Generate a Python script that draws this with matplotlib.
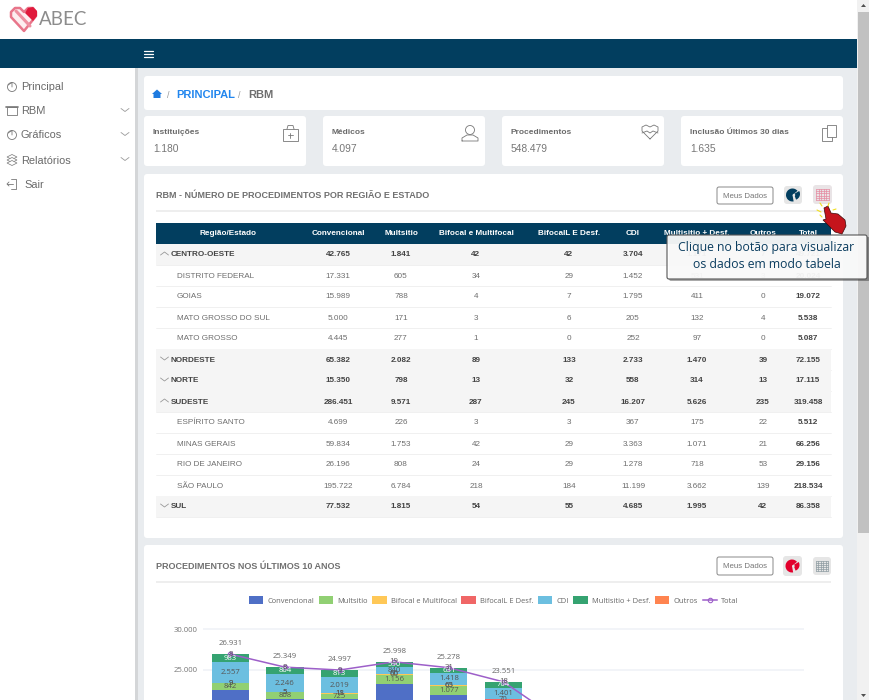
import matplotlib
matplotlib.use('Agg')
import matplotlib.pyplot as plt
from matplotlib.patches import FancyBboxPatch, Rectangle, Circle, Wedge, Polygon

W, H = 870, 700
NAVY = '#023e5f'
BG = '#e9ecef'
GREY = '#666666'
DARK = '#444444'
SANS = 'Liberation Sans'
CHART_FONT = 'Open Sans'

# table
table_headers = ['Região/Estado', 'Convencional', 'Multsitio', 'Bifocal e Multifocal',
                 'BifocalL E Desf.', 'CDI', 'Multisitio + Desf.', 'Outros', 'Total']
row_names = ['CENTRO-OESTE', 'DISTRITO FEDERAL', 'GOIAS', 'MATO GROSSO DO SUL', 'MATO GROSSO',
             'NORDESTE', 'NORTE', 'SUDESTE', 'ESPÍRITO SANTO', 'MINAS GERAIS', 'RIO DE JANEIRO',
             'SÃO PAULO', 'SUL']
is_region = [1, 0, 0, 0, 0, 1, 1, 1, 0, 0, 0, 0, 1]
is_open = [1, 0, 0, 0, 0, 0, 0, 1, 0, 0, 0, 0, 0]
col_conv = ['42.765', '17.331', '15.989', '5.000', '4.445', '65.382', '15.350', '286.451',
            '4.699', '59.834', '26.196', '195.722', '77.532']
col_multi = ['1.841', '605', '788', '171', '277', '2.082', '798', '9.571',
             '226', '1.753', '808', '6.784', '1.815']
col_bif = ['42', '34', '4', '3', '1', '89', '13', '287', '3', '42', '24', '218', '54']
col_bifl = ['42', '29', '7', '6', '0', '133', '32', '245', '3', '29', '29', '184', '55']
col_cdi = ['3.704', '1.452', '1.795', '205', '252', '2.733', '558', '16.207',
           '367', '3.363', '1.278', '11.199', '4.685']
col_desf = ['1.171', '531', '411', '132', '97', '1.470', '314', '5.626',
            '175', '1.071', '718', '3.662', '1.995']
col_outros = ['7', '3', '0', '4', '0', '39', '13', '235', '22', '21', '53', '139', '42']
col_total = ['49.721', '20.024', '19.072', '5.538', '5.087', '72.155', '17.115', '319.458',
             '5.512', '66.256', '29.156', '218.534', '86.358']

# stat cards
stat_labels = ['Instituições', 'Médicos', 'Procedimentos', 'Inclusão Últimos 30 dias']
stat_values = ['1.180', '4.097', '548.479', '1.635']
menu_items = ['Principal', 'RBM', 'Gráficos', 'Relatórios', 'Sair']

# chart, only the first six bars are inside the screenshot
series_names = ['Convencional', 'Multsitio', 'Bifocal e Multifocal', 'BifocalL E Desf.',
                'CDI', 'Multisitio + Desf.', 'Outros']
series_colors = ['#4f6fc6', '#91d073', '#ffc857', '#f06666', '#6cbfe0', '#35a371', '#ff8450']
convencional = [22523, 21473, 21402, 23267, 21993, 20422]
multsitio = [842, 808, 725, 1156, 1077, 900]
bifocal = [9, 5, 11, 60, 63, 36]
bifocal_desf = [9, 5, 18, 66, 65, 70]
cdi = [2557, 2246, 2019, 840, 1418, 1401]
multi_desf = [983, 804, 813, 590, 631, 704]
outros = [8, 8, 9, 19, 31, 18]
totals = [26931, 25349, 24997, 25998, 25278, 23551, 19000]
y_ticks = [25000, 30000]

fig = plt.figure(figsize=(W / 100, H / 100), dpi=100)
bg = fig.add_axes([0, 0, 1, 1])
bg.set_xlim(0, W)
bg.set_ylim(H, 0)
bg.axis('off')


def rect(x0, y0, x1, y1, color, z=1, **kw):
    bg.add_patch(Rectangle((x0, y0), x1 - x0, y1 - y0, fc=color, ec='none', zorder=z, **kw))


def card(x0, y0, x1, y1, fc='white', ec='none', lw=0, z=2, r=3, **kw):
    bg.add_patch(FancyBboxPatch((x0 + r, y0 + r), x1 - x0 - 2 * r, y1 - y0 - 2 * r,
                                boxstyle='round,pad=%d,rounding_size=%d' % (r, r),
                                fc=fc, ec=ec, lw=lw, zorder=z, **kw))


def txt(x, y, s, size=6.6, color=GREY, weight='normal', ha='left', family=SANS, z=4):
    # va=center sits a bit high compared to the browser text
    bg.text(x, y + 1, s, fontsize=size, color=color, fontweight=weight, ha=ha, va='center',
            family=family, zorder=z)


def line(xs, ys, color=GREY, lw=0.7, z=4):
    bg.plot(xs, ys, color=color, lw=lw, zorder=z, solid_capstyle='round')


def chevron(x, y, up, color='#999999'):
    d = -3 if up else 3
    line([x - 4, x, x + 4], [y - d / 2, y + d / 2, y - d / 2], color=color, lw=0.6)


def pie_button(x0, y0, x1, y1, color):
    card(x0, y0, x1, y1, fc='#e6e6e6', z=3)
    cx, cy = (x0 + x1) / 2, (y0 + y1) / 2
    bg.add_patch(Wedge((cx - 0.5, cy), 6.5, 80, 320, fc=color, ec='none', zorder=4))
    bg.add_patch(Wedge((cx + 1, cy - 1), 6, 330, 70, fc=color, ec='none', zorder=4))
    bg.add_patch(Circle((cx + 1, cy), 1.2, fc='#e6e6e6', ec='none', zorder=5))


def grid_button(x0, y0, x1, y1, color, fc='#e6e6e6'):
    card(x0, y0, x1, y1, fc=fc, z=3)
    gx0, gx1, gy0, gy1 = x0 + 3, x1 - 3, y0 + 4, y1 - 4
    for i in range(6):
        xx = gx0 + (gx1 - gx0) * i / 5
        line([xx, xx], [gy0, gy1], color=color, lw=0.5)
    for i in range(6):
        yy = gy0 + (gy1 - gy0) * i / 5
        line([gx0, gx1], [yy, yy], color=color, lw=0.5)


# page frame
rect(0, 0, W, H, BG, z=0)
rect(0, 0, 857, 39, 'white')
rect(0, 39, 857, 68, NAVY)
rect(0, 68, 135, H, 'white')
rect(135, 68, 138, H, '#d4d6d8')
rect(857, 0, W, H, '#f1f1f1')
rect(858, 12, 869, 533, '#c1c1c1')
bg.add_patch(Polygon([(861, 694), (866, 694), (863.5, 697)], fc='#505050', ec='none', zorder=3))
bg.add_patch(Polygon([(861, 7), (866, 7), (863.5, 4)], fc='#505050', ec='none', zorder=3))

# logo
heart = [(24, 31), (11, 17), (11, 12), (15, 8), (20, 8), (24, 12), (28, 8), (33, 8), (36, 12), (36, 16)]
bg.add_patch(Polygon(heart, fc='#fdeef0', ec='#e8758a', lw=1.8, joinstyle='round', zorder=3))
line([16, 30], [11, 26], color='#ee8fa0', lw=2.2)
bg.add_patch(Polygon([(25, 13), (28, 8), (33, 7), (37, 11), (37, 16), (33, 21)], fc='#e01a3c', ec='none', zorder=5))
txt(39, 18.5, 'ABEC', size=13.5, color='#8c8c8c', family='Lato')

# hamburger
for yy in (51, 54, 57):
    line([144, 153], [yy, yy], color='white', lw=0.9)

# sidebar
menu_y = [87, 111, 135, 160, 184]
menu_x = [21, 21, 21, 21, 24]
for name, mx, my in zip(menu_items, menu_x, menu_y):
    txt(mx, my - 0.5, name, size=7.9, color='#6a6a6a')
for my in menu_y[1:4]:
    chevron(125, my - 1, False)
for my in (menu_y[0], menu_y[2]):
    bg.add_patch(Circle((12, my), 4.5, fc='none', ec='#777777', lw=0.6, zorder=4))
    line([12, 12, 8], [my, my - 4.5, my - 2], color='#777777', lw=0.6)
bg.add_patch(Rectangle((7, 107), 10, 8, fc='none', ec='#777777', lw=0.6, zorder=4))
line([6, 18], [107, 107], color='#777777', lw=1.2)
for dy in (-3, 0, 3):
    bg.add_patch(Polygon([(7, 160 + dy), (12, 157.5 + dy), (17, 160 + dy), (12, 162.5 + dy)],
                         fc='white', ec='#777777', lw=0.5, zorder=4))
line([11, 16, 16, 11], [179, 179, 189, 189], color='#777777', lw=0.6)
line([7, 13], [184, 184], color='#777777', lw=0.6)
line([9, 7, 9], [182, 184, 186], color='#777777', lw=0.6)

# breadcrumb
card(144, 76, 843, 110)
bg.add_patch(Polygon([(152, 94), (157, 89.5), (162, 94), (160.5, 94), (160.5, 98), (153.5, 98), (153.5, 94)],
                     fc='#1e7be0', ec='none', zorder=4))
txt(167, 94, '/', size=6.5, color='#999999')
txt(176.5, 93.5, 'PRINCIPAL', size=8, color='#2186ee', weight='bold')
txt(238.5, 94, '/', size=6.5, color='#999999')
txt(248, 93.5, 'RBM', size=8, color='#6e6e6e', weight='bold')

# stat cards
card_x = [144, 323, 502, 681]
for i in range(4):
    x0 = card_x[i]
    card(x0, 116, x0 + 162, 166)
    txt(x0 + 9, 131, stat_labels[i], size=6.0, color='#6a6a6a', weight='bold')
    txt(x0 + 9, 148, stat_values[i], size=7.4, color='#777777')

ic = '#777777'
bg.add_patch(Rectangle((283, 129), 15, 12, fc='none', ec=ic, lw=0.6, zorder=4))
line([287, 288, 293, 294], [129, 125.5, 125.5, 129], color=ic, lw=0.6)
line([288, 293], [135, 135], color=ic, lw=0.6)
line([290.5, 290.5], [132.5, 137.5], color=ic, lw=0.6)
bg.add_patch(Circle((470, 130), 4.5, fc='none', ec=ic, lw=0.6, zorder=4))
line([462, 462, 467, 473, 478, 478, 462], [141, 138, 135, 135, 138, 141, 141], color=ic, lw=0.6)
line([650, 646, 642, 642, 646, 650, 654, 658, 658, 654, 650], [139, 135, 131, 127, 125, 127, 125, 127, 131, 135, 139], color=ic, lw=0.6)
line([642, 647, 650, 653, 658], [133, 131, 133, 131, 133], color=ic, lw=0.6)
bg.add_patch(Rectangle((822, 128), 10, 13, fc='white', ec=ic, lw=0.6, zorder=4))
bg.add_patch(Rectangle((827, 125), 9, 12, fc='white', ec=ic, lw=0.6, zorder=4))

# table card
card(144, 174, 843, 538)
txt(156, 195, 'RBM - NÚMERO DE PROCEDIMENTOS POR REGIÃO E ESTADO', size=6.45, color='#707070', weight='bold')
rect(156, 210, 831, 212, '#eeeeee', z=3)
card(717, 187, 773, 204, ec='#888888', lw=0.7, z=3, r=2)
txt(745, 195, 'Meus Dados', size=5.7, ha='center', color='#777777')
pie_button(784, 186, 802, 204, NAVY)
grid_button(813, 185, 832, 204, '#e58aa0', fc='#e9e4e6')

col_x = [228, 338, 401, 476, 569, 633, 697, 763, 808]
columns = [col_conv, col_multi, col_bif, col_bifl, col_cdi, col_desf, col_outros, col_total]
row_step = (506 - 254) / 12
rect(156, 223, 831, 243.5, NAVY, z=3)
for h, cx in zip(table_headers, col_x):
    txt(cx, 232.5, h, size=5.9, color='white', weight='bold', ha='center')
for r, name in enumerate(row_names):
    yc = 254 + r * row_step
    if is_region[r]:
        rect(156, yc - row_step / 2, 831, yc + row_step / 2, '#f5f5f5', z=3)
        chevron(164.5, yc - 0.5, bool(is_open[r]))
        txt(171, yc, name, size=5.9, color='#444444', weight='bold')
    else:
        txt(177, yc, name, size=5.9, color='#6e6e6e')
    line([156, 831], [yc + row_step / 2] * 2, color='#eeeeee', lw=0.6, z=3)
    for c, cx in zip(columns, col_x[1:]):
        bold = is_region[r] or c is col_total
        txt(cx, yc, c[r], size=5.9, color='#444444' if bold else '#6e6e6e',
            weight='bold' if bold else 'normal', ha='center')

# chart card
card(144, 545, 843, H + 10)
txt(156, 565.5, 'PROCEDIMENTOS NOS ÚLTIMOS 10 ANOS', size=6.45, color='#707070', weight='bold')
rect(156, 581, 831, 582.5, '#eeeeee', z=3)
card(717, 557, 773, 575, ec='#888888', lw=0.7, z=3, r=2)
txt(745, 565.5, 'Meus Dados', size=5.7, ha='center', color='#777777')
pie_button(783, 556, 802, 576, '#e3002d')
grid_button(813, 557, 831, 575, '#8c9aa0')

# tooltip + hand
card(669, 237, 870, 281, fc='#00000055', z=6, r=2)
card(667, 235, 867, 279, fc='#ffffffee', ec='#555555', lw=0.8, z=7, r=2)
txt(766.5, 247, 'Clique no botão para visualizar', size=8.85, color='#0b3d5f', ha='center', family=CHART_FONT, z=8)
txt(766.5, 264, 'os dados em modo tabela', size=8.85, color='#0b3d5f', ha='center', family=CHART_FONT, z=8)
hand = [(824, 208), (828, 206), (831, 213), (838, 214), (845, 220), (846, 226), (842, 234),
        (835, 232), (829, 226), (823, 220), (826, 219)]
bg.add_patch(Polygon(hand, fc='#c5141c', ec='#3a0a0a', lw=0.5, zorder=8))
for x0, y0, x1, y1 in [(817, 210, 821, 212), (820, 203, 822, 206), (829, 203, 828, 206),
                       (836, 209, 833, 210), (820, 215, 822, 217)]:
    line([x0, x1], [y0, y1], color='#f2e020', lw=0.8, z=8)

# chart axes, bottom of the plot is cut off by the screenshot edge
ax = fig.add_axes([203 / W, 0, (804 - 203) / W, 78 / H])
ax.patch.set_alpha(0)
ax.set_xlim(-0.5, 10.5)
ax.set_ylim(21341, 30854)
for s in ax.spines.values():
    s.set_visible(False)
ax.set_xticks([])
ax.set_yticks(y_ticks)
ax.set_yticklabels(['25.000', '30.000'], fontsize=5.6, color='#777777', family=CHART_FONT)
ax.tick_params(axis='y', length=0, pad=4)
ax.grid(axis='y', color='#eff1f7', lw=1.1)
ax.set_axisbelow(True)

xs = list(range(len(convencional)))
stack = [convencional, multsitio, bifocal, bifocal_desf, cdi, multi_desf, outros]
bottom = [0] * len(xs)
handles = []
for vals, name, color in zip(stack, series_names, series_colors):
    bars = ax.bar(xs, vals, 0.68, bottom=bottom, color=color, label=name, zorder=2)
    handles.append(bars)
    lab_col = 'white' if vals is multi_desf else '#555555'
    for x, b, v in zip(xs, bottom, vals):
        # labels whose segment middle is below the screenshot are not shown
        if b + v / 2 > ax.get_ylim()[0]:
            ax.text(x, b + v / 2, f'{v:,}'.replace(',', '.'), ha='center', va='center',
                    fontsize=5.6, color=lab_col, family=CHART_FONT, zorder=5)
    bottom = [b + v for b, v in zip(bottom, vals)]

total_line, = ax.plot(range(len(totals)), totals, color='#9d5fc9', lw=1.1, marker='o', ms=3.2,
                      mfc='none', mew=0.8, label='Total', zorder=4)
for i, v in enumerate(totals[:len(xs)]):
    ax.annotate(f'{v:,}'.replace(',', '.'), (i, v), xytext=(0, 5), textcoords='offset points',
                ha='center', va='bottom', fontsize=5.6, color='#666666', family=CHART_FONT)

fig.legend(handles=handles + [total_line], loc='center', bbox_to_anchor=(493.5 / W, 1 - 600.5 / H),
           ncol=8, frameon=False, handlelength=1.9, handleheight=1.1, handletextpad=0.5,
           columnspacing=0.65, borderpad=0, labelcolor='#666666', prop={'family': CHART_FONT, 'size': 5.45})

fig.savefig('out.png', dpi=100)
